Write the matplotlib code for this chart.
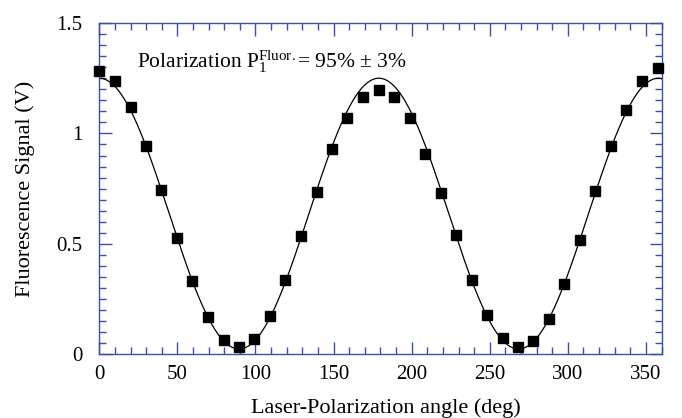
import numpy as np
import matplotlib.pyplot as plt
from matplotlib.ticker import MultipleLocator, FormatStrFormatter

plt.rcParams['font.family'] = ['Liberation Serif', 'DejaVu Serif']
plt.rcParams['mathtext.fontset'] = 'custom'
plt.rcParams['mathtext.rm'] = 'Liberation Serif'
plt.rcParams['mathtext.it'] = 'Liberation Serif:italic'

# measured points (angle in deg, signal in V)
angle = [0, 9.9, 20.1, 29.7, 39.5, 49.9, 59.5, 69.4, 79.6, 89.2,
         99.2, 109.1, 119.1, 129.1, 139.2, 149.0, 158.8, 168.6, 178.9, 188.7,
         198.7, 208.5, 218.6, 228.4, 238.4, 248.0, 258.3, 268.1, 277.9, 287.7,
         297.7, 307.6, 317.5, 327.6, 337.4, 347.4, 357.5]
signal = [1.284, 1.236, 1.119, 0.944, 0.745, 0.528, 0.332, 0.170, 0.066, 0.034,
          0.071, 0.175, 0.336, 0.537, 0.735, 0.929, 1.071, 1.165, 1.196, 1.165,
          1.068, 0.908, 0.730, 0.541, 0.338, 0.179, 0.075, 0.034, 0.062, 0.161,
          0.318, 0.519, 0.739, 0.944, 1.107, 1.239, 1.297]

# cos^2 fit parameters
fit_offset = 0.024
fit_amp = 1.226
fit_period = 179.0

spine_col = '#3a4fa8'

fig = plt.figure(figsize=(6.82, 4.18), dpi=100)
ax = fig.add_axes([0.1456, 0.1524, 0.8244, 0.7926])

xf = np.linspace(0, 360, 721)
yf = fit_offset + fit_amp * np.cos(np.pi * xf / fit_period) ** 2
ax.plot(xf, yf, color='black', lw=0.9)
ax.plot(angle, signal, 's', color='black', ms=6.8, clip_on=False, zorder=3)

ax.set_xlim(0, 360)
ax.set_ylim(0, 1.5)
ax.xaxis.set_major_locator(MultipleLocator(50))
ax.xaxis.set_minor_locator(MultipleLocator(10))
ax.yaxis.set_major_locator(MultipleLocator(0.5))
ax.yaxis.set_minor_locator(MultipleLocator(0.05))
ax.yaxis.set_major_formatter(FormatStrFormatter('%g'))

for s in ax.spines.values():
    s.set_color(spine_col)
    s.set_linewidth(1.0)
ax.tick_params(which='both', direction='in', top=True, right=True,
               color=spine_col, labelsize=15, labelcolor='black')
ax.tick_params(which='major', length=9, width=1.0)
ax.tick_params(which='minor', length=5, width=1.0)
ax.tick_params(axis='x', which='major', pad=8)
ax.tick_params(axis='y', which='major', pad=12)

ax.set_xlabel('Laser-Polarization angle (deg)', fontsize=16, va='baseline')
ax.set_ylabel('Fluorescence Signal (V)', fontsize=16)
ax.xaxis.set_label_coords(0.51, -0.177)
ax.yaxis.set_label_coords(-0.114, 0.5)

ax.text(24.3, 1.295, r'Polarization P$_1^{\mathrm{Fluor.}}$= 95% ± 3%',
        fontsize=15.5, ha='left', va='baseline')

fig.savefig('out.png', dpi=100)
